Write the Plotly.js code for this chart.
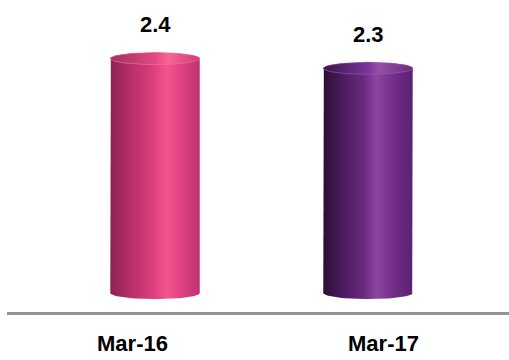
<!DOCTYPE html>
<html>
<head>
<meta charset="utf-8">
<script src="https://cdn.plot.ly/plotly-3.0.1.min.js"></script>
<style>
  html, body { margin: 0; padding: 0; background: #ffffff; }
  #chart { width: 509px; height: 360px; }
</style>
</head>
<body>
<div id="chart"></div>
<script>
// Period labels and their values
const categories = ['Mar-16', 'Mar-17'];
const values = [2.4, 2.3];

// Cylinder shading, dark edge -> highlight -> shaded edge
const bodyScales = [
  [[0, '#8a2252'], [0.18, '#ae2d65'], [0.45, '#d83b7b'], [0.63, '#f5558f'], [0.82, '#da3f7e'], [1, '#bf3370']],
  [[0, '#2c0e36'], [0.2, '#4a1a5b'], [0.45, '#6a2a80'], [0.6, '#8d44a2'], [0.82, '#6e2b85'], [1, '#5a2270']]
];
const topScales = [
  [[0, '#a0305f'], [0.5, '#e24884'], [0.65, '#f76596'], [1, '#cf3a77']],
  [[0, '#3c1548'], [0.5, '#7a349a'], [0.62, '#9650aa'], [1, '#6a2a80']]
];
const topEdge = ['#f27aa5', '#9a5cb0'];

// Cylinder geometry in axis units
const halfWidth = 0.21;
const capRy = 0.062;
const N = 40;

function cylinderOutline(cx, v) {
  const xs = [], ys = [];
  xs.push(cx - halfWidth); ys.push(0);
  for (let k = 0; k <= N; k++) {           // back arc of the top cap
    const t = Math.PI - Math.PI * k / N;
    xs.push(cx + halfWidth * Math.cos(t)); ys.push(v + capRy * Math.sin(t));
  }
  for (let k = 0; k <= N; k++) {           // front arc of the base
    const t = -Math.PI * k / N;
    xs.push(cx + halfWidth * Math.cos(t)); ys.push(capRy * Math.sin(t));
  }
  xs.push(cx - halfWidth); ys.push(0);
  return { xs, ys };
}

function capEllipse(cx, v) {
  const xs = [], ys = [];
  for (let k = 0; k <= 2 * N; k++) {
    const t = Math.PI * k / N;
    xs.push(cx + halfWidth * Math.cos(t)); ys.push(v + capRy * Math.sin(t));
  }
  return { xs, ys };
}

const traces = [];
values.forEach((v, i) => {
  const body = cylinderOutline(i, v);
  traces.push({
    type: 'scatter', mode: 'lines', x: body.xs, y: body.ys,
    fill: 'toself', line: { width: 0 },
    fillgradient: { type: 'horizontal', colorscale: bodyScales[i] },
    hoverinfo: 'skip', showlegend: false
  });
  const cap = capEllipse(i, v);
  traces.push({
    type: 'scatter', mode: 'lines', x: cap.xs, y: cap.ys,
    fill: 'toself', line: { width: 0.6, color: topEdge[i] },
    fillgradient: { type: 'horizontal', colorscale: topScales[i] },
    hoverinfo: 'skip', showlegend: false
  });
});

// Category axis carrying the period labels
traces.push({
  type: 'scatter', mode: 'none', x: categories, y: values,
  xaxis: 'x2', yaxis: 'y', hoverinfo: 'skip', showlegend: false
});

const labelFont = { family: 'Liberation Sans, Arial, sans-serif', size: 22, weight: 'bold', color: '#000000' };

const layout = {
  width: 509, height: 360,
  margin: { l: 7, r: 0, t: 0, b: 48 },
  paper_bgcolor: '#ffffff', plot_bgcolor: '#ffffff',
  showlegend: false,
  xaxis: {
    range: [-0.695, 1.662], visible: false, fixedrange: true
  },
  xaxis2: {
    type: 'category', overlaying: 'x', anchor: 'y', side: 'bottom',
    range: [-0.5, 1.5], fixedrange: true,
    showgrid: false, zeroline: false, ticks: '',
    showline: true, linecolor: '#949494', linewidth: 3,
    tickfont: labelFont, ticklabelstandoff: 10
  },
  yaxis: {
    range: [-0.194, 2.999], visible: false, fixedrange: true
  },
  annotations: values.map((v, i) => ({
    x: i, y: v, xref: 'x', yref: 'y',
    text: v.toFixed(1), showarrow: false,
    yanchor: 'middle', yshift: 34,
    font: labelFont
  }))
};

Plotly.newPlot('chart', traces, layout, { staticPlot: true, displayModeBar: false });
</script>
</body>
</html>
